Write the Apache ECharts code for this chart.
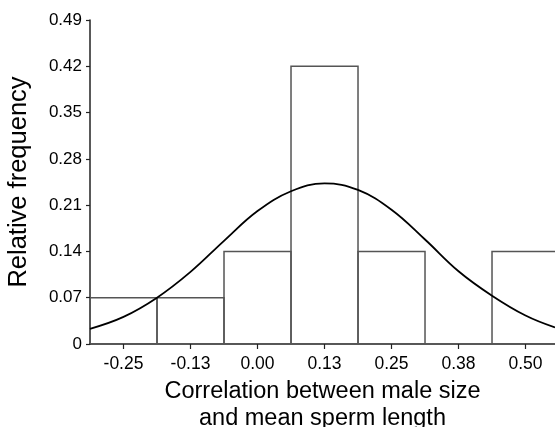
<!DOCTYPE html>
<html>
<head>
<meta charset="utf-8">
<script src="https://cdn.jsdelivr.net/npm/echarts@6/dist/echarts.min.js"></script>
<style>html,body{margin:0;padding:0;background:#fff;}#c{width:555px;height:427px;}</style>
</head>
<body>
<div id="c"></div>
<script>
// Histogram bins (relative frequency)
var binStart = [-0.3125, -0.1875, -0.0625, 0.0625, 0.1875, 0.3125, 0.4375];
var binEnd   = [-0.1875, -0.0625,  0.0625, 0.1875, 0.3125, 0.4375, 0.5625];
var binFreq  = [0.07, 0.07, 0.14, 0.42, 0.14, 0, 0.14];

// Fitted normal curve
var curveX = [-0.3125, -0.25, -0.1875, -0.125, -0.0625, 0.0, 0.0625, 0.125, 0.1875, 0.25, 0.3125, 0.375, 0.4375, 0.50, 0.555];
var curveY = [0.023, 0.041, 0.070, 0.109, 0.156, 0.201, 0.231, 0.243, 0.233, 0.203, 0.158, 0.110, 0.073, 0.043, 0.025];

// X tick positions and labels
var xTickValues = [-0.25, -0.125, 0, 0.125, 0.25, 0.375, 0.5];
var xTickLabels = ['-0.25', '-0.13', '0.00', '0.13', '0.25', '0.38', '0.50'];

var FONT = '"Liberation Sans", Arial, Helvetica, sans-serif';

var barData = [];
for (var i = 0; i < binStart.length; i++) {
  if (binFreq[i] > 0) barData.push([binStart[i], binEnd[i], binFreq[i]]);
}
var curveData = curveX.map(function (x, i) { return [x, curveY[i]]; });

var chart = echarts.init(document.getElementById('c'), null, {renderer: 'canvas'});
chart.setOption({
  animation: false,
  backgroundColor: '#fff',
  grid: {left: 90, right: 0, top: 20, bottom: 83, containLabel: false, outerBoundsMode: 'none'},
  xAxis: {
    type: 'value',
    min: -0.3125,
    max: 0.555,
    splitLine: {show: false},
    axisLine: {show: true, onZero: false, lineStyle: {color: '#222', width: 1.5}},
    axisTick: {show: true, length: 5, inside: false, customValues: xTickValues, lineStyle: {color: '#222', width: 1.2}},
    axisLabel: {
      customValues: xTickValues,
      margin: 11,
      color: '#000',
      fontSize: 17.5,
      fontFamily: FONT,
      formatter: function (v) {
        for (var k = 0; k < xTickValues.length; k++) {
          if (Math.abs(xTickValues[k] - v) < 1e-6) return xTickLabels[k];
        }
        return '';
      }
    },
    name: 'Correlation between male size\nand mean sperm length',
    nameLocation: 'middle',
    nameGap: 26,
    nameTextStyle: {color: '#000', fontSize: 23.5, fontFamily: FONT, lineHeight: 27, verticalAlign: 'top'}
  },
  yAxis: {
    type: 'value',
    min: 0,
    max: 0.49,
    interval: 0.07,
    splitLine: {show: false},
    axisLine: {show: true, onZero: false, lineStyle: {color: '#222', width: 1.5}},
    axisTick: {show: true, length: 4, lineStyle: {color: '#222', width: 1.2}},
    axisLabel: {
      margin: 8,
      color: '#000',
      fontSize: 17,
      fontFamily: FONT,
      formatter: function (v) { return v === 0 ? '0' : v.toFixed(2); }
    },
    name: 'Relative frequency',
    nameLocation: 'middle',
    nameRotate: 90,
    nameGap: 58,
    nameTextStyle: {color: '#000', fontSize: 25.5, fontFamily: FONT}
  },
  series: [
    {
      type: 'custom',
      clip: true,
      data: barData,
      encode: {x: [0, 1], y: 2},
      renderItem: function (params, api) {
        var p0 = api.coord([api.value(0), api.value(2)]);
        var p1 = api.coord([api.value(1), 0]);
        return {
          type: 'rect',
          shape: {x: p0[0], y: p0[1], width: p1[0] - p0[0], height: p1[1] - p0[1]},
          style: {fill: 'none', stroke: '#555', lineWidth: 1.5}
        };
      },
      z: 2
    },
    {
      type: 'line',
      data: curveData,
      smooth: 0.4,
      showSymbol: false,
      symbol: 'none',
      lineStyle: {color: '#000', width: 1.8},
      z: 3
    }
  ]
});
</script>
</body>
</html>
